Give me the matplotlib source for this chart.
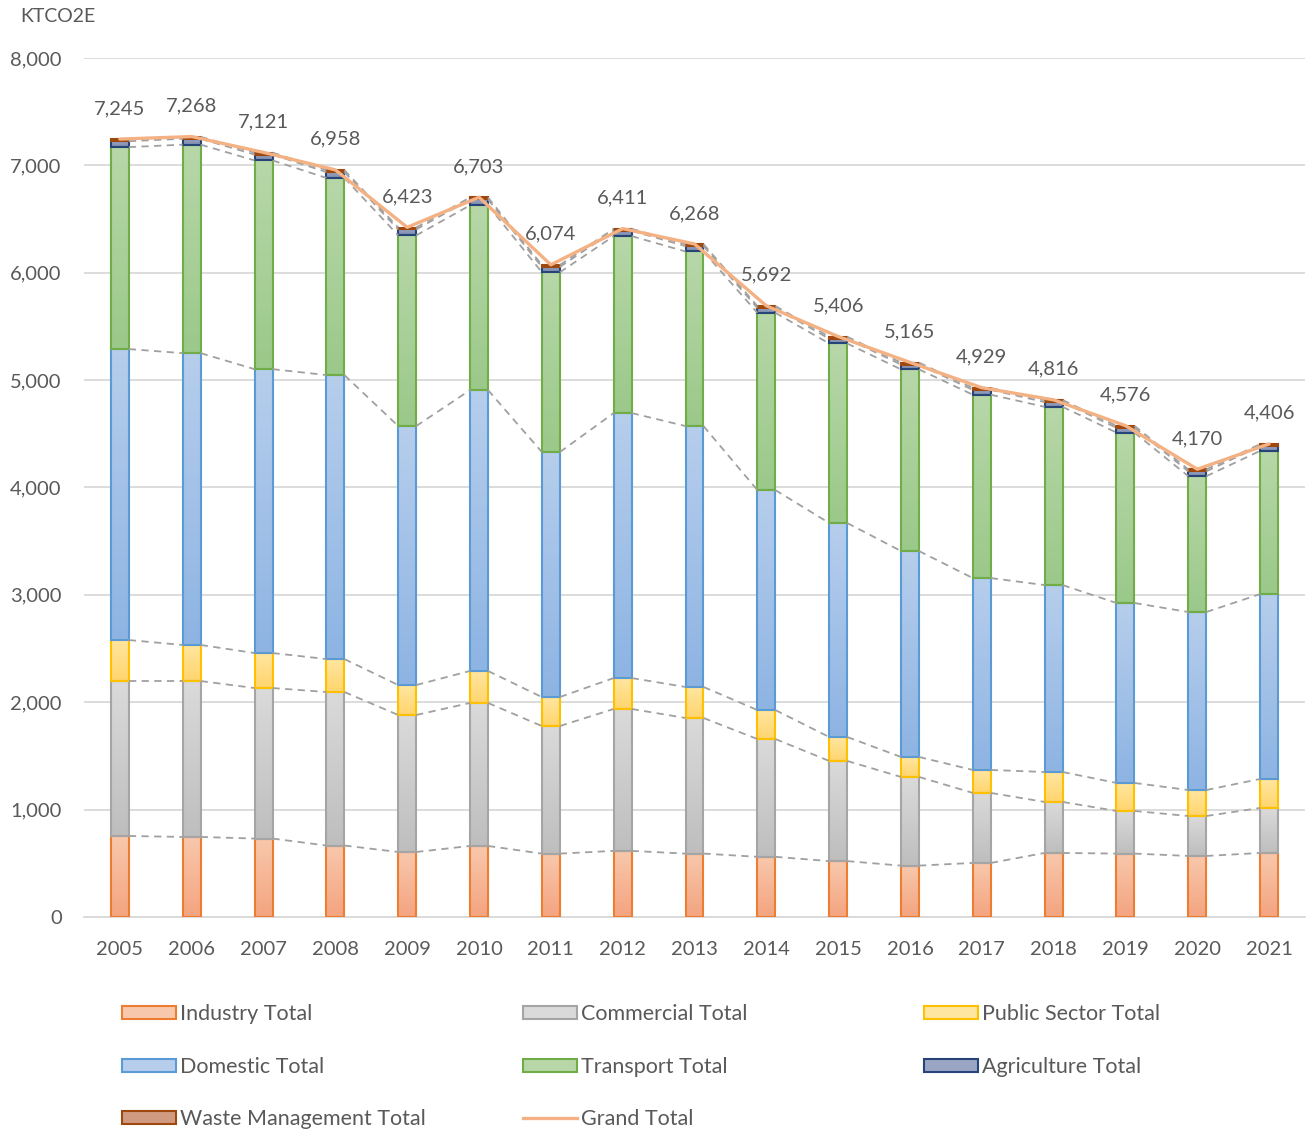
import numpy as np
import matplotlib.pyplot as plt
from matplotlib.patches import Patch
from matplotlib.lines import Line2D
from matplotlib.colors import LinearSegmentedColormap

plt.rcParams["font.family"] = ["Lato", "DejaVu Sans"]

years = [str(y) for y in range(2005, 2022)]

industry = [754, 745, 730, 665, 605, 661, 590, 615, 590, 560, 520, 478, 503, 596, 590, 568, 596]
commercial = [1443, 1452, 1402, 1430, 1276, 1332, 1188, 1322, 1263, 1097, 933, 826, 652, 475, 397, 372, 419]
public_sector = [382, 336, 326, 307, 279, 298, 270, 288, 289, 270, 223, 186, 214, 279, 261, 242, 270]
domestic = [2710, 2718, 2644, 2645, 2412, 2616, 2282, 2468, 2430, 2049, 1993, 1918, 1787, 1741, 1676, 1658, 1722]
transport = [1881, 1942, 1944, 1836, 1776, 1721, 1674, 1648, 1626, 1651, 1672, 1692, 1708, 1660, 1587, 1265, 1334]
agriculture = [55, 55, 55, 55, 55, 55, 50, 50, 50, 45, 45, 45, 45, 45, 45, 45, 45]
waste = [18, 18, 18, 18, 18, 18, 18, 18, 18, 18, 18, 18, 18, 18, 18, 18, 18]
grand_total = [7245, 7268, 7121, 6958, 6423, 6703, 6074, 6411, 6268, 5692, 5406, 5165, 4929, 4816, 4576, 4170, 4406]

# name, values, top colour, bottom colour, edge colour
series = [
    ("Industry Total", industry, "#F8C8AC", "#F4A480", "#ED7D31"),
    ("Commercial Total", commercial, "#DADADA", "#BEBEBE", "#A5A5A5"),
    ("Public Sector Total", public_sector, "#FFE6A0", "#FFD56E", "#FFC000"),
    ("Domestic Total", domestic, "#B6CEEC", "#8EB4E3", "#5B9BD5"),
    ("Transport Total", transport, "#B7D7A8", "#9BC98A", "#70AD47"),
    ("Agriculture Total", agriculture, "#9AA6C4", "#7C8AB0", "#264478"),
    ("Waste Management Total", waste, "#D09A80", "#B8775A", "#9E480E"),
]

TEXT = "#595959"
GRID = "#D9D9D9"
BAR_W = 0.25

fig = plt.figure(figsize=(13.12, 11.33), dpi=100)
ax = fig.add_axes([0.064, 0.1907, 0.9307, 0.7581])

x = np.arange(len(years))
bottom = np.zeros(len(years))
tops = []
for name, vals, c_top, c_bot, c_edge in series:
    vals = np.array(vals, dtype=float)
    cmap = LinearSegmentedColormap.from_list(name, [c_bot, c_top])
    grad = np.linspace(0, 1, 64).reshape(-1, 1)
    for xi, b, v in zip(x, bottom, vals):
        ax.imshow(grad, cmap=cmap, origin="lower", aspect="auto",
                  extent=(xi - BAR_W / 2, xi + BAR_W / 2, b, b + v), zorder=2)
    ax.bar(x, vals, BAR_W, bottom=bottom, facecolor="none",
           edgecolor=c_edge, linewidth=1.5, zorder=3)
    bottom = bottom + vals
    tops.append(bottom.copy())

# series lines between bars
for top in tops:
    for i in range(len(years) - 1):
        ax.plot([x[i] + BAR_W / 2, x[i + 1] - BAR_W / 2], [top[i], top[i + 1]],
                color="#A0A0A0", lw=1.3, ls=(0, (4, 3)), zorder=4)

ax.plot(x, grand_total, color="#F4B183", lw=2.4, zorder=5, solid_capstyle="round")
for xi, t in zip(x, grand_total):
    ax.annotate(f"{t:,}", (xi, t), xytext=(0, 22), textcoords="offset points",
                ha="center", va="center", fontsize=14.5, color=TEXT)

ax.set_xlim(-0.5, len(years) - 0.5)
ax.set_ylim(0, 8000)
ax.set_yticks(range(0, 8001, 1000))
ax.set_yticklabels([f"{v:,}" for v in range(0, 8001, 1000)])
ax.set_xticks(x)
ax.set_xticklabels(years)
ax.tick_params(length=0, labelsize=14.5, labelcolor=TEXT)
ax.tick_params(axis="x", pad=17.5)
ax.tick_params(axis="y", pad=16)
ax.grid(axis="y", color=GRID, lw=1.3, zorder=0)
ax.set_axisbelow(True)
for side in ["top", "right", "left"]:
    ax.spines[side].set_visible(False)
ax.spines["bottom"].set_color(GRID)
ax.spines["bottom"].set_linewidth(1.3)

fig.text(20 / 1312, 1 - 17 / 1133, "KTCO2E", fontsize=14, color=TEXT,
         ha="left", va="center")

handles = {}
for name, vals, c_top, c_bot, c_edge in series:
    handles[name] = Patch(facecolor=c_top, edgecolor=c_edge, linewidth=1.5)
handles["Grand Total"] = Line2D([], [], color="#F4B183", lw=2.4)

columns = [
    ["Industry Total", "Domestic Total", "Waste Management Total"],
    ["Commercial Total", "Transport Total", "Grand Total"],
    ["Public Sector Total", "Agriculture Total"],
]
col_x = [122, 523, 924]
for cx, names in zip(col_x, columns):
    fig.legend([handles[n] for n in names], names, loc="upper left",
               bbox_to_anchor=(cx / 1312, 1 - 1004 / 1133), frameon=False,
               fontsize=15.5, labelcolor=TEXT, handlelength=2.5, handleheight=0.55,
               handletextpad=0.2, labelspacing=1.52, borderpad=0, borderaxespad=0)

fig.savefig("out.png", dpi=100)
